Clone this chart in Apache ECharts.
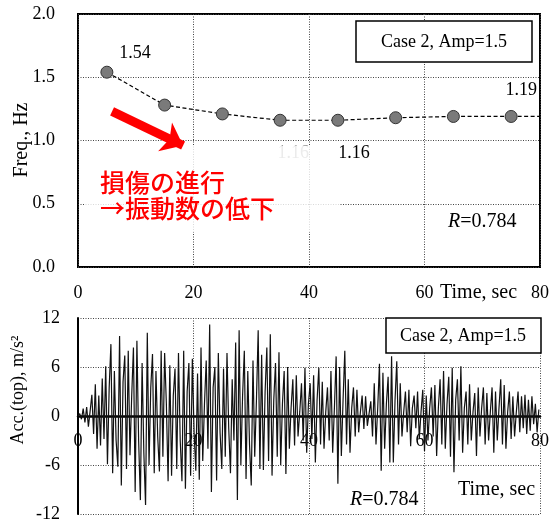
<!DOCTYPE html>
<html>
<head>
<meta charset="utf-8">
<script src="https://cdn.jsdelivr.net/npm/echarts@6/dist/echarts.min.js"></script>
<style>
html,body{margin:0;padding:0;background:#fff;}
#chart{width:556px;height:522px;}
</style>
</head>
<body>
<div id="chart"></div>
<script>
// ---- Top chart data (natural frequency) ----
const freqTime = [5, 15, 25, 35, 45, 55, 65, 75];
const freqValues = [1.54, 1.28, 1.21, 1.16, 1.16, 1.18, 1.19, 1.19];
const freqLabels = ['1.54', '', '', '1.16', '1.16', '', '', '1.19'];
const freqTrendTime = [75, 80];
const freqTrendValues = [1.19, 1.19];
const xTicks = [0, 20, 40, 60, 80];
const freqTicks = [0.0, 0.5, 1.0, 1.5, 2.0];
const accTicks = [-12, -6, 0, 6, 12];
const caseText = 'Case 2, Amp=1.5';
const rText = '0.784';
const annotLine1 = '損傷の進行';
const annotLine2 = '→振動数の低下';
const arrowFrom = [5.9, 1.23];
const arrowTo = [18.2, 0.96];

// ---- Bottom chart data (acceleration at top), sample interval in sec ----
const accDt = 0.3;
const accValues = [
  0, 0.3, -0.4, 0.9, -0.8, 1.1, -1.3, 0.6, 2.6, -2.2,
  3.9, -4.0, 2.5, -3.6, 4.6, -2.8, 6.1, -5.9, 3.5, 8.8,
  -7.0, 5.5, -3.0, -6.2, 9.8, -8.5, 4.2, 7.4, -6.5, 8.0,
  -4.8, 2.5, 8.4, -9.3, 9.2, -3.0, -10.3, 6.5, -4.5, -10.9,
  10.2, -6.0, 3.5, 7.6, -7.0, 5.5, -2.5, -6.8, 8.0, -5.0,
  7.7, 1.5, -8.0, 6.2, -7.3, 2.5, 5.8, -6.5, 7.7, -3.0,
  -8.0, 8.0, -8.9, 3.0, 6.5, -7.3, 7.0, -2.0, -6.7, 5.2,
  -7.8, 8.4, -5.5, 1.5, 6.8, -4.0, 11.2, -9.3, 3.5, 6.0,
  -7.9, 7.7, -2.0, -6.5, 5.8, -5.0, 7.7, -1.5, -7.0, 4.5,
  -3.0, 9.0, -10.3, 10.5, -6.0, 2.5, 8.0, -7.7, 5.5, -3.5,
  -8.5, 6.8, -5.0, 2.0, 10.5, -6.5, 7.5, -6.6, 3.0, 8.4,
  -5.5, 10.0, -7.3, 2.0, 6.5, -5.0, 7.8, -6.0, 1.5, 5.5,
  -7.1, 6.0, -4.0, 1.0, 4.5, -3.6, 5.0, -2.5, 0.5, 4.0,
  -3.0, 5.9, -4.5, 1.5, 4.0, -2.8, 5.0, -5.7, 2.0, 5.9,
  -3.5, 4.2, -4.0, 0.5, 3.5, -3.0, 5.5, -4.5, 1.0, 7.3,
  -8.3, 6.0, -4.9, 2.0, 8.0, -3.5, 4.5, -4.5, 1.0, 3.5,
  -2.5, 3.2, -2.0, 0.5, 2.5, -1.6, 2.4, -1.2, 0.3, 1.8,
  -2.5, 4.0, -3.5, 1.0, 6.4, -6.7, 5.3, -4.0, 1.5, 4.8,
  -5.7, 7.3, -5.7, 2.0, 6.7, -3.5, 4.0, -2.5, 0.5, 3.0,
  -2.0, 3.2, -3.7, 1.0, 2.5, -1.5, 3.0, -2.8, 0.5, 3.2,
  -4.3, 2.5, -3.0, 1.0, 3.5, -2.5, 3.8, -4.9, 1.0, 4.5,
  -3.5, 5.5, -4.0, 1.5, 4.8, -5.0, 5.9, -6.9, 2.0, 4.5,
  -3.0, 6.1, -4.5, 1.0, 3.0, -3.5, 3.9, -3.0, 0.5, 2.8,
  -4.9, 3.5, -2.5, 1.0, 3.5, -3.5, 2.8, -3.0, 0.5, 3.5,
  -4.5, 3.0, -3.0, 1.0, 4.5, -3.5, 3.8, -4.0, 0.5, 3.0,
  -2.8, 2.4, -2.5, 0.5, 3.0, -2.0, 2.4, -1.5, 2.6, -2.2,
  2.0, -1.8, 2.4, -1.0, 1.5, -2.0, 0.8
];

// ---- styling (kept separate from data) ----
const serif = 'Liberation Serif';
const cjk = 'Noto Sans CJK JP';
const labelOffsets = [[28, -19], [0, 0], [0, 0], [13, 33], [16, 33], [0, 0], [0, 0], [10, -26]];
const labelColors = ['#000', '#000', '#000', '#999', '#000', '#000', '#000', '#000'];
const dotted = { color: '#444', type: [1, 1.5], width: 1 };

const chart = echarts.init(document.getElementById('chart'), null, { renderer: 'canvas' });

const freqData = freqTime.map((t, i) => ({
  value: [t, freqValues[i]],
  label: {
    show: freqLabels[i] !== '',
    formatter: freqLabels[i],
    position: 'inside',
    offset: labelOffsets[i],
    color: labelColors[i],
    fontFamily: serif,
    fontSize: 18
  }
}));

const accData = accValues.map((v, i) => [Math.round(i * accDt * 100) / 100, v]);

const option = {
  animation: false,
  backgroundColor: '#fff',
  grid: [
    { left: 78, top: 14, width: 462, height: 253, show: true, borderColor: '#000', borderWidth: 2, backgroundColor: 'transparent', outerBoundsMode: 'none', containLabel: false },
    { left: 78, top: 318, width: 462, height: 196, show: false, outerBoundsMode: 'none', containLabel: false }
  ],
  xAxis: [
    {
      gridIndex: 0, type: 'value', min: xTicks[0], max: xTicks[xTicks.length - 1], interval: 20,
      axisLine: { show: false }, axisTick: { show: false },
      splitLine: { show: true, lineStyle: dotted },
      axisLabel: { margin: 17, color: '#000', fontFamily: serif, fontSize: 18 }
    },
    {
      gridIndex: 1, type: 'value', min: xTicks[0], max: xTicks[xTicks.length - 1], interval: 20,
      position: 'bottom', offset: -98,
      axisLine: { show: true, onZero: false, lineStyle: { color: '#000', width: 2.5 } },
      axisTick: { show: false },
      splitLine: { show: true, lineStyle: dotted },
      axisLabel: { margin: 16, color: '#000', fontFamily: serif, fontSize: 18, showMinLabel: true, showMaxLabel: true }
    }
  ],
  yAxis: [
    {
      gridIndex: 0, type: 'value', min: freqTicks[0], max: freqTicks[freqTicks.length - 1], interval: 0.5,
      axisLine: { show: false }, axisTick: { show: false },
      splitLine: { show: true, lineStyle: dotted },
      axisLabel: { margin: 23, color: '#000', fontFamily: serif, fontSize: 18, formatter: v => v.toFixed(1) }
    },
    {
      gridIndex: 1, type: 'value', min: accTicks[0], max: accTicks[accTicks.length - 1], interval: 6,
      axisLine: { show: true, onZero: false, lineStyle: { color: '#000', width: 2 } }, axisTick: { show: false },
      splitLine: { show: true, lineStyle: dotted },
      axisLabel: { margin: 18, color: '#000', fontFamily: serif, fontSize: 18 }
    }
  ],
  series: [
    {
      type: 'line', xAxisIndex: 0, yAxisIndex: 0, data: freqData,
      symbol: 'circle', symbolSize: 12,
      itemStyle: { color: '#7a7a7a', borderColor: '#333', borderWidth: 1 },
      lineStyle: { color: '#000', width: 1.2, type: [4, 2.5] },
      z: 3
    },
    {
      type: 'line', xAxisIndex: 0, yAxisIndex: 0,
      data: freqTrendTime.map((t, i) => [t, freqTrendValues[i]]),
      symbol: 'none', lineStyle: { color: '#000', width: 1.2, type: [4, 2.5] }, z: 2
    },
    {
      type: 'line', xAxisIndex: 0, yAxisIndex: 0, data: [], symbol: 'none', z: 20,
      markLine: {
        silent: true, symbol: ['none', 'arrow'], symbolSize: [24, 20],
        lineStyle: { color: '#ff0000', width: 9, type: 'solid' },
        label: { show: false },
        data: [[{ coord: arrowFrom }, { coord: arrowTo }]]
      }
    },
    {
      type: 'line', xAxisIndex: 1, yAxisIndex: 1, data: accData,
      symbol: 'none', lineStyle: { color: '#111', width: 1.2 }, z: 2
    }
  ],
  graphic: [
    { type: 'rect', z: 5, shape: { x: 85, y: 146, width: 255, height: 86 }, style: { fill: 'rgba(255,255,255,0.8)' } },
    { type: 'text', z: 30, x: 100, y: 182, style: { text: annotLine1, fill: '#ff0000', font: '500 25px "' + cjk + '"', textVerticalAlign: 'middle' } },
    { type: 'text', z: 30, x: 100, y: 208, style: { text: annotLine2, fill: '#ff0000', font: '500 25px "' + cjk + '"', textVerticalAlign: 'middle' } },
    { type: 'rect', z: 10, shape: { x: 356, y: 21, width: 176, height: 41 }, style: { fill: '#fff', stroke: '#000', lineWidth: 1.5 } },
    { type: 'text', z: 11, x: 444, y: 42, style: { text: caseText, fill: '#000', font: '18px "' + serif + '"', textAlign: 'center', textVerticalAlign: 'middle' } },
    { type: 'rect', z: 10, shape: { x: 386, y: 318, width: 155, height: 35 }, style: { fill: '#fff', stroke: '#000', lineWidth: 1.5 } },
    { type: 'text', z: 11, x: 463, y: 336, style: { text: caseText, fill: '#000', font: '18px "' + serif + '"', textAlign: 'center', textVerticalAlign: 'middle' } },
    { type: 'text', z: 11, x: 448, y: 222, style: { text: '{i|R}={n|' + rText + '}', textVerticalAlign: 'middle', rich: { i: { fontFamily: serif, fontStyle: 'italic', fontSize: 20, fill: '#000' }, n: { fontFamily: serif, fontSize: 20, fill: '#000' } }, font: '20px "' + serif + '"', fill: '#000' } },
    { type: 'text', z: 11, x: 350, y: 500, style: { text: '{i|R}={n|' + rText + '}', textVerticalAlign: 'middle', rich: { i: { fontFamily: serif, fontStyle: 'italic', fontSize: 20, fill: '#000' }, n: { fontFamily: serif, fontSize: 20, fill: '#000' } }, font: '20px "' + serif + '"', fill: '#000' } },
    { type: 'text', z: 11, x: 440, y: 293, style: { text: 'Time, sec', fill: '#000', font: '20px "' + serif + '"', textVerticalAlign: 'middle' } },
    { type: 'text', z: 11, x: 458, y: 490, style: { text: 'Time, sec', fill: '#000', font: '20px "' + serif + '"', textVerticalAlign: 'middle' } },
    { type: 'text', z: 11, x: 22, y: 140, rotation: Math.PI / 2, style: { text: 'Freq., Hz', fill: '#000', font: '20px "' + serif + '"', textAlign: 'center', textVerticalAlign: 'middle' } },
    { type: 'text', z: 11, x: 18, y: 390, rotation: Math.PI / 2, style: { text: 'Acc.(top), m/s²', fill: '#000', font: '18px "' + serif + '"', textAlign: 'center', textVerticalAlign: 'middle' } }
  ]
};

chart.setOption(option);
</script>
</body>
</html>
